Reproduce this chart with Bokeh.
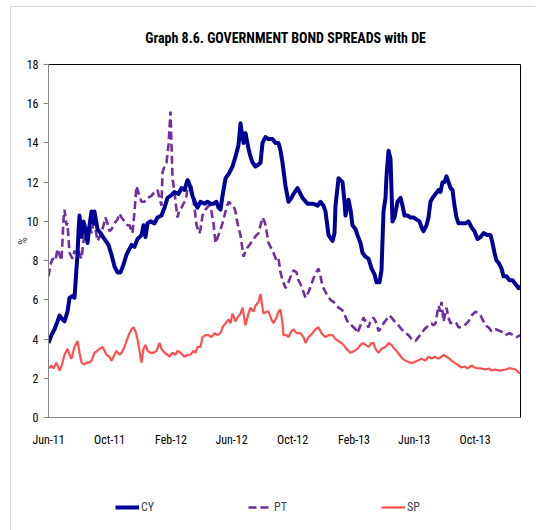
import pandas as pd
from bokeh.plotting import figure
from bokeh.layouts import column
from bokeh.models import (Range1d, FixedTicker, Legend, LegendItem, DatetimeTickFormatter, Label)
from bokeh.embed import file_html
from bokeh.resources import INLINE

# Spreads of 10y government bonds over the German Bund, in percentage points
cy_dates = ["2011-06-01", "2011-06-07", "2011-06-13", "2011-06-19", "2011-06-23", "2011-06-29",
            "2011-07-03", "2011-07-09", "2011-07-13", "2011-07-19", "2011-07-23", "2011-07-27",
            "2011-07-29", "2011-07-31", "2011-08-02", "2011-08-06", "2011-08-10", "2011-08-14",
            "2011-08-18", "2011-08-22", "2011-08-26", "2011-08-30", "2011-09-01", "2011-09-07",
            "2011-09-13", "2011-09-21", "2011-09-29", "2011-10-05", "2011-10-11", "2011-10-17",
            "2011-10-23", "2011-10-29", "2011-11-04", "2011-11-10", "2011-11-14", "2011-11-20",
            "2011-11-26", "2011-12-04", "2011-12-08", "2011-12-12", "2011-12-16", "2011-12-22",
            "2011-12-30", "2012-01-05", "2012-01-13", "2012-01-19", "2012-01-25", "2012-01-31",
            "2012-02-08", "2012-02-16", "2012-02-22", "2012-02-28", "2012-03-05", "2012-03-09",
            "2012-03-15", "2012-03-21", "2012-03-25", "2012-03-31", "2012-04-08", "2012-04-14",
            "2012-04-20", "2012-04-26", "2012-05-02", "2012-05-06", "2012-05-10", "2012-05-14",
            "2012-05-20", "2012-05-26", "2012-06-03", "2012-06-09", "2012-06-15", "2012-06-19",
            "2012-06-21", "2012-06-25", "2012-06-29", "2012-07-05", "2012-07-09", "2012-07-13",
            "2012-07-19", "2012-07-25", "2012-07-29", "2012-08-02", "2012-08-08", "2012-08-14",
            "2012-08-22", "2012-08-28", "2012-09-03", "2012-09-07", "2012-09-11", "2012-09-17",
            "2012-09-23", "2012-09-29", "2012-10-03", "2012-10-11", "2012-10-15", "2012-10-21",
            "2012-10-31", "2012-11-06", "2012-11-12", "2012-11-20", "2012-11-26", "2012-12-02",
            "2012-12-06", "2012-12-12", "2012-12-20", "2012-12-24", "2012-12-26", "2013-01-01",
            "2013-01-05", "2013-01-09", "2013-01-13", "2013-01-15", "2013-01-21", "2013-01-25",
            "2013-01-29", "2013-02-04", "2013-02-08", "2013-02-14", "2013-02-18", "2013-02-24",
            "2013-03-02", "2013-03-08", "2013-03-14", "2013-03-18", "2013-03-24", "2013-03-28",
            "2013-04-01", "2013-04-05", "2013-04-07", "2013-04-11", "2013-04-15", "2013-04-19",
            "2013-04-23", "2013-04-29", "2013-05-05", "2013-05-09", "2013-05-13", "2013-05-19",
            "2013-05-25", "2013-05-31", "2013-06-06", "2013-06-12", "2013-06-16", "2013-06-20",
            "2013-06-26", "2013-06-30", "2013-07-04", "2013-07-08", "2013-07-14", "2013-07-20",
            "2013-07-24", "2013-07-28", "2013-08-01", "2013-08-05", "2013-08-09", "2013-08-13",
            "2013-08-17", "2013-08-21", "2013-08-25", "2013-08-29", "2013-09-04", "2013-09-12",
            "2013-09-18", "2013-09-24", "2013-09-30", "2013-10-06", "2013-10-12", "2013-10-18",
            "2013-10-26", "2013-11-01", "2013-11-05", "2013-11-09", "2013-11-13", "2013-11-17",
            "2013-11-23", "2013-11-27", "2013-12-03", "2013-12-09", "2013-12-15", "2013-12-21",
            "2013-12-27", "2013-12-31"]
cy_values = [3.8, 4.2, 4.5, 4.9, 5.2, 5.0, 4.9, 5.4, 6.1, 6.2, 6.1, 7.6, 8.3, 9.5, 10.3, 9.2,
             10.0, 9.6, 8.9, 9.8, 10.5, 9.9, 10.5, 9.6, 9.4, 9.1, 8.8, 8.3, 7.7, 7.4, 7.4, 7.8,
             8.3, 8.6, 8.8, 8.7, 9.1, 9.3, 9.8, 9.2, 9.9, 10.0, 9.9, 10.2, 10.3, 10.7, 11.2, 11.3,
             11.5, 11.4, 11.7, 11.6, 12.1, 11.9, 11.3, 10.9, 10.7, 11.0, 10.9, 11.0, 10.9, 10.9,
             11.0, 10.7, 10.6, 11.3, 12.2, 12.4, 12.8, 13.3, 13.9, 15.0, 14.6, 14.0, 14.5, 13.7,
             13.3, 13.0, 12.8, 12.9, 13.0, 14.0, 14.3, 14.2, 14.2, 14.0, 14.0, 13.6, 13.0, 11.8,
             11.0, 11.2, 11.4, 11.7, 11.5, 11.2, 10.9, 10.9, 10.9, 10.8, 11.0, 10.8, 10.5, 9.3,
             9.0, 9.4, 10.8, 12.2, 12.1, 12.0, 11.0, 10.3, 11.1, 10.6, 9.8, 9.6, 9.3, 8.9, 8.4,
             8.2, 8.1, 7.6, 7.3, 6.9, 6.9, 7.5, 10.5, 11.2, 12.3, 13.6, 13.2, 10.0, 10.2, 11.0,
             11.2, 10.8, 10.3, 10.3, 10.2, 10.2, 10.1, 10.0, 9.7, 9.5, 9.8, 10.2, 11.0, 11.2,
             11.4, 11.6, 11.5, 12.0, 12.0, 12.3, 12.0, 11.7, 11.6, 10.8, 10.2, 9.9, 9.9, 9.9,
             10.0, 9.7, 9.5, 9.1, 9.2, 9.4, 9.3, 9.3, 8.9, 8.4, 8.0, 7.9, 7.6, 7.2, 7.2, 7.0,
             7.0, 6.8, 6.6, 6.7]

pt_dates = ["2011-06-01", "2011-06-05", "2011-06-09", "2011-06-15", "2011-06-19", "2011-06-23",
            "2011-06-27", "2011-06-29", "2011-07-01", "2011-07-03", "2011-07-07", "2011-07-09",
            "2011-07-13", "2011-07-19", "2011-07-23", "2011-07-27", "2011-07-29", "2011-08-02",
            "2011-08-06", "2011-08-10", "2011-08-14", "2011-08-18", "2011-08-22", "2011-08-26",
            "2011-08-30", "2011-09-03", "2011-09-07", "2011-09-13", "2011-09-19", "2011-09-23",
            "2011-09-27", "2011-10-01", "2011-10-05", "2011-10-11", "2011-10-17", "2011-10-21",
            "2011-10-25", "2011-10-31", "2011-11-06", "2011-11-10", "2011-11-16", "2011-11-20",
            "2011-11-24", "2011-11-30", "2011-12-04", "2011-12-10", "2011-12-16", "2011-12-24",
            "2011-12-30", "2012-01-05", "2012-01-09", "2012-01-13", "2012-01-15", "2012-01-19",
            "2012-01-23", "2012-01-27", "2012-01-31", "2012-02-04", "2012-02-08", "2012-02-10",
            "2012-02-14", "2012-02-18", "2012-02-22", "2012-02-28", "2012-03-03", "2012-03-07",
            "2012-03-13", "2012-03-17", "2012-03-19", "2012-03-23", "2012-03-29", "2012-03-31",
            "2012-04-04", "2012-04-10", "2012-04-16", "2012-04-20", "2012-04-26", "2012-04-30",
            "2012-05-06", "2012-05-10", "2012-05-14", "2012-05-20", "2012-05-26", "2012-05-30",
            "2012-06-05", "2012-06-09", "2012-06-13", "2012-06-19", "2012-06-25", "2012-07-01",
            "2012-07-07", "2012-07-15", "2012-07-21", "2012-07-25", "2012-07-29", "2012-08-02",
            "2012-08-06", "2012-08-08", "2012-08-14", "2012-08-20", "2012-08-24", "2012-08-30",
            "2012-09-03", "2012-09-07", "2012-09-11", "2012-09-17", "2012-09-23", "2012-09-29",
            "2012-10-03", "2012-10-09", "2012-10-13", "2012-10-17", "2012-10-23", "2012-10-27",
            "2012-11-02", "2012-11-08", "2012-11-12", "2012-11-18", "2012-11-22", "2012-11-26",
            "2012-11-30", "2012-12-06", "2012-12-10", "2012-12-16", "2012-12-22", "2012-12-28",
            "2013-01-01", "2013-01-07", "2013-01-11", "2013-01-17", "2013-01-21", "2013-01-27",
            "2013-01-31", "2013-02-04", "2013-02-08", "2013-02-14", "2013-02-20", "2013-02-24",
            "2013-03-02", "2013-03-06", "2013-03-12", "2013-03-18", "2013-03-22", "2013-03-28",
            "2013-04-01", "2013-04-07", "2013-04-13", "2013-04-17", "2013-04-23", "2013-05-01",
            "2013-05-07", "2013-05-15", "2013-05-21", "2013-05-27", "2013-06-04", "2013-06-10",
            "2013-06-16", "2013-06-22", "2013-06-30", "2013-07-06", "2013-07-10", "2013-07-14",
            "2013-07-18", "2013-07-20", "2013-07-24", "2013-07-26", "2013-07-30", "2013-08-05",
            "2013-08-09", "2013-08-13", "2013-08-19", "2013-08-25", "2013-08-29", "2013-09-04",
            "2013-09-10", "2013-09-18", "2013-09-24", "2013-10-02", "2013-10-08", "2013-10-12",
            "2013-10-18", "2013-10-22", "2013-10-28", "2013-11-03", "2013-11-11", "2013-11-21",
            "2013-11-27", "2013-12-01", "2013-12-09", "2013-12-17", "2013-12-23", "2013-12-31"]
pt_values = [7.2, 7.8, 8.1, 8.0, 8.6, 8.3, 8.0, 9.0, 10.1, 10.6, 9.8, 9.9, 8.4, 8.1, 8.5, 8.4,
             8.9, 8.3, 8.1, 9.0, 9.4, 9.3, 9.8, 9.4, 9.9, 9.6, 9.0, 9.3, 9.8, 10.2, 9.9, 9.5,
             9.6, 9.9, 10.1, 10.4, 10.2, 10.0, 9.8, 9.8, 9.4, 10.5, 11.8, 11.3, 11.0, 11.0, 11.2,
             11.3, 11.5, 11.6, 11.2, 10.8, 12.5, 12.8, 13.0, 13.9, 15.6, 12.2, 11.5, 11.0, 10.2,
             10.6, 10.7, 11.0, 11.3, 12.1, 11.8, 11.0, 10.7, 9.8, 9.4, 9.6, 10.3, 10.6, 10.8,
             10.8, 9.9, 8.9, 9.3, 9.6, 9.9, 10.5, 11.0, 10.9, 10.8, 10.5, 9.9, 9.3, 8.2, 8.6,
             8.8, 9.1, 9.3, 9.4, 9.8, 10.2, 10.0, 9.8, 8.9, 8.6, 8.4, 8.0, 8.1, 7.4, 7.0, 6.6,
             6.9, 7.3, 7.5, 7.4, 7.0, 6.8, 6.4, 6.1, 6.4, 6.8, 7.1, 7.4, 7.6, 7.2, 6.7, 6.4,
             6.2, 6.0, 5.9, 5.7, 5.6, 5.5, 5.4, 5.0, 4.8, 4.7, 4.6, 4.5, 4.3, 4.7, 5.1, 4.9,
             4.6, 4.9, 5.1, 4.8, 4.4, 4.6, 4.8, 5.0, 5.2, 5.1, 4.9, 4.7, 4.5, 4.3, 4.2, 4.0,
             3.9, 4.1, 4.3, 4.5, 4.7, 4.8, 4.7, 4.8, 5.4, 5.7, 5.4, 5.9, 4.9, 5.6, 5.1, 4.8,
             4.9, 4.8, 4.6, 4.6, 4.7, 4.9, 5.2, 5.4, 5.3, 5.2, 4.9, 4.7, 4.6, 4.4, 4.5, 4.4,
             4.3, 4.2, 4.3, 4.2, 4.1, 4.2]

sp_dates = ["2011-06-01", "2011-06-07", "2011-06-11", "2011-06-17", "2011-06-23", "2011-06-27",
            "2011-07-03", "2011-07-09", "2011-07-13", "2011-07-17", "2011-07-23", "2011-07-29",
            "2011-08-02", "2011-08-06", "2011-08-12", "2011-08-16", "2011-08-22", "2011-08-26",
            "2011-09-01", "2011-09-07", "2011-09-11", "2011-09-17", "2011-09-21", "2011-09-25",
            "2011-10-01", "2011-10-05", "2011-10-11", "2011-10-15", "2011-10-21", "2011-10-25",
            "2011-10-31", "2011-11-04", "2011-11-10", "2011-11-14", "2011-11-18", "2011-11-22",
            "2011-11-26", "2011-11-30", "2011-12-04", "2011-12-08", "2011-12-12", "2011-12-16",
            "2011-12-22", "2011-12-28", "2012-01-03", "2012-01-09", "2012-01-13", "2012-01-19",
            "2012-01-25", "2012-01-29", "2012-02-04", "2012-02-10", "2012-02-14", "2012-02-20",
            "2012-02-24", "2012-02-28", "2012-03-05", "2012-03-11", "2012-03-17", "2012-03-21",
            "2012-03-25", "2012-03-31", "2012-04-04", "2012-04-10", "2012-04-16", "2012-04-22",
            "2012-04-28", "2012-05-04", "2012-05-10", "2012-05-14", "2012-05-20", "2012-05-26",
            "2012-05-30", "2012-06-03", "2012-06-09", "2012-06-13", "2012-06-19", "2012-06-23",
            "2012-06-27", "2012-06-29", "2012-07-05", "2012-07-09", "2012-07-15", "2012-07-19",
            "2012-07-25", "2012-07-29", "2012-08-02", "2012-08-04", "2012-08-10", "2012-08-14",
            "2012-08-20", "2012-08-24", "2012-08-30", "2012-09-03", "2012-09-07", "2012-09-11",
            "2012-09-13", "2012-09-19", "2012-09-23", "2012-09-29", "2012-10-03", "2012-10-09",
            "2012-10-17", "2012-10-23", "2012-10-27", "2012-11-02", "2012-11-10", "2012-11-16",
            "2012-11-22", "2012-11-28", "2012-12-06", "2012-12-12", "2012-12-20", "2012-12-26",
            "2013-01-01", "2013-01-07", "2013-01-11", "2013-01-17", "2013-01-25", "2013-02-02",
            "2013-02-08", "2013-02-14", "2013-02-20", "2013-02-24", "2013-03-02", "2013-03-08",
            "2013-03-12", "2013-03-16", "2013-03-22", "2013-03-28", "2013-04-05", "2013-04-11",
            "2013-04-17", "2013-04-23", "2013-04-27", "2013-05-03", "2013-05-09", "2013-05-15",
            "2013-05-23", "2013-05-31", "2013-06-08", "2013-06-16", "2013-06-24", "2013-06-30",
            "2013-07-06", "2013-07-12", "2013-07-20", "2013-07-26", "2013-07-30", "2013-08-05",
            "2013-08-11", "2013-08-15", "2013-08-21", "2013-08-27", "2013-09-04", "2013-09-10",
            "2013-09-16", "2013-09-24", "2013-09-30", "2013-10-08", "2013-10-14", "2013-10-22",
            "2013-10-28", "2013-11-03", "2013-11-11", "2013-11-17", "2013-11-23", "2013-12-01",
            "2013-12-07", "2013-12-13", "2013-12-21", "2013-12-27", "2013-12-31"]
sp_values = [2.5, 2.65, 2.5, 2.8, 2.4, 2.6, 3.2, 3.5, 3.2, 3.0, 3.6, 3.9, 3.3, 2.8, 2.7, 2.8,
             2.8, 2.9, 3.3, 3.4, 3.5, 3.6, 3.4, 3.2, 3.1, 2.9, 3.2, 3.4, 3.2, 3.3, 3.6, 3.9,
             4.3, 4.5, 4.6, 4.4, 4.0, 3.4, 2.8, 3.5, 3.7, 3.4, 3.3, 3.3, 3.4, 3.8, 3.5, 3.3,
             3.2, 3.1, 3.3, 3.2, 3.4, 3.3, 3.2, 3.1, 3.2, 3.2, 3.4, 3.3, 3.6, 3.6, 4.1, 4.2,
             4.2, 4.1, 4.3, 4.2, 4.3, 4.6, 4.8, 5.0, 4.8, 5.3, 4.9, 5.1, 5.3, 5.6, 5.0, 4.7,
             5.3, 5.6, 5.4, 5.7, 5.9, 6.3, 5.6, 5.3, 5.4, 5.4, 5.0, 4.8, 5.1, 5.4, 5.5, 4.8,
             4.2, 4.2, 4.1, 4.4, 4.5, 4.3, 4.3, 4.1, 3.8, 4.1, 4.3, 4.5, 4.6, 4.3, 4.1, 4.2,
             4.2, 4.0, 3.9, 3.8, 3.7, 3.5, 3.3, 3.4, 3.5, 3.7, 3.8, 3.7, 3.6, 3.8, 3.8, 3.5,
             3.3, 3.5, 3.6, 3.8, 3.7, 3.5, 3.4, 3.2, 3.0, 2.9, 2.8, 2.8, 2.9, 3.0, 2.9, 3.1,
             3.0, 3.1, 3.0, 3.1, 3.2, 3.1, 3.0, 2.9, 2.8, 2.7, 2.55, 2.6, 2.5, 2.65, 2.55, 2.5,
             2.5, 2.45, 2.5, 2.4, 2.45, 2.4, 2.4, 2.45, 2.5, 2.5, 2.45, 2.3, 2.25]

series_names = ["CY", "PT", "SP"]
tick_dates = ["2011-06-01", "2011-10-01", "2012-02-01", "2012-06-01",
              "2012-10-01", "2013-02-01", "2013-06-01", "2013-10-01"]
tick_labels = ["Jun-11", "Oct-11", "Feb-12", "Jun-12", "Oct-12", "Feb-13", "Jun-13", "Oct-13"]
y_ticks = [0, 2, 4, 6, 8, 10, 12, 14, 16, 18]
title_text = "Graph 8.6. GOVERNMENT BOND SPREADS with DE"

FONT = "'Liberation Sans Narrow', 'Arial Narrow', 'Roboto Condensed', sans-serif"
AXIS_GREY = "#868686"
EDGE = "#D9D9D9"
WIDTH = 525
STYLES = {
    "CY": dict(line_color="#000099", line_width=4, line_join="round"),
    "PT": dict(line_color="#7030A0", line_width=2.6, line_dash="8 4"),
    "SP": dict(line_color="#FF5050", line_width=2.2),
}


def strip(height, shadow):
    """A plain axis-less strip used for the heading and the key."""
    f = figure(width=WIDTH, height=height, output_backend="svg", toolbar_location=None,
               min_border=0, min_border_left=0, min_border_right=0,
               min_border_top=0, min_border_bottom=0,
               x_axis_location=None, y_axis_location=None, title=None,
               x_range=Range1d(0, WIDTH), y_range=Range1d(0, height),
               background_fill_color="white", border_fill_color="white",
               styles={"box-shadow": shadow})
    f.grid.visible = False
    f.outline_line_color = None
    return f


# heading strip
head = strip(50, f"-1px -1px 0 0 {EDGE}")
head.add_layout(Label(x=264, y=20, text=title_text, text_align="center",
                      text_baseline="middle", text_font=FONT, text_font_size="14px",
                      text_font_style="bold", text_color="#000000"))

# main chart
p = figure(width=WIDTH, height=410, x_axis_type="datetime", title=None,
           output_backend="svg", toolbar_location=None,
           min_border_left=37, min_border_right=16, min_border_top=7, min_border_bottom=50,
           background_fill_color="white", border_fill_color="white",
           styles={"box-shadow": f"-1px 0 0 0 {EDGE}"})

p.x_range = Range1d(pd.Timestamp("2011-06-01"), pd.Timestamp("2013-12-31"))
p.y_range = Range1d(0, 18)

p.outline_line_color = "#000000"
p.outline_line_width = 1
p.xgrid.visible = False
p.ygrid.visible = False

# y axis
p.yaxis.ticker = FixedTicker(ticks=y_ticks)
p.yaxis.axis_label = "%"
p.yaxis.axis_label_text_font = FONT
p.yaxis.axis_label_text_font_size = "12px"
p.yaxis.axis_label_text_font_style = "normal"
p.yaxis.axis_label_standoff = -6
p.yaxis.major_label_text_font = FONT
p.yaxis.major_label_text_font_size = "12px"
p.yaxis.major_label_text_color = "#000000"
p.yaxis.axis_line_color = AXIS_GREY
p.yaxis.major_tick_line_color = AXIS_GREY
p.yaxis.major_tick_out = 5
p.yaxis.major_tick_in = 0
p.yaxis.minor_tick_line_color = None
p.yaxis.major_label_standoff = 5

# x axis
tick_ms = [pd.Timestamp(d).value // 10**6 for d in tick_dates]
p.xaxis.ticker = FixedTicker(ticks=tick_ms)
p.xaxis.formatter = DatetimeTickFormatter(months="%b-%y", days="%b-%y", years="%b-%y")
p.xaxis.major_label_overrides = {t: lab for t, lab in zip(tick_ms, tick_labels)}
p.xaxis.major_label_text_font = FONT
p.xaxis.major_label_text_font_size = "12px"
p.xaxis.major_label_text_color = "#000000"
p.xaxis.axis_line_color = AXIS_GREY
p.xaxis.major_tick_line_color = None
p.xaxis.minor_tick_line_color = None
p.xaxis.major_tick_out = 0
p.xaxis.major_label_standoff = 15

p.line(pd.to_datetime(sp_dates), sp_values, **STYLES["SP"])
p.line(pd.to_datetime(pt_dates), pt_values, **STYLES["PT"])
p.line(pd.to_datetime(cy_dates), cy_values, **STYLES["CY"])

# key strip under the chart: one-point NaN lines carry the series styles for the legend
key = strip(63, f"-1px 0 0 0 {EDGE}")
items = []
for name in series_names:
    r = key.line([float("nan")], [float("nan")], **STYLES[name])
    items.append(LegendItem(label=name, renderers=[r]))
key.add_layout(Legend(items=items, orientation="horizontal", location=(67, 16),
                      glyph_width=24, glyph_height=12, label_standoff=2, label_width=48,
                      spacing=59, padding=0, margin=0,
                      label_text_font=FONT, label_text_font_size="12px",
                      border_line_color=None, background_fill_alpha=0))

# the chart sits inset in the page
layout = column(head, p, key, spacing=0, margin=(7, 0, 0, 11))

open("out.html", "w").write(file_html(layout, INLINE))
